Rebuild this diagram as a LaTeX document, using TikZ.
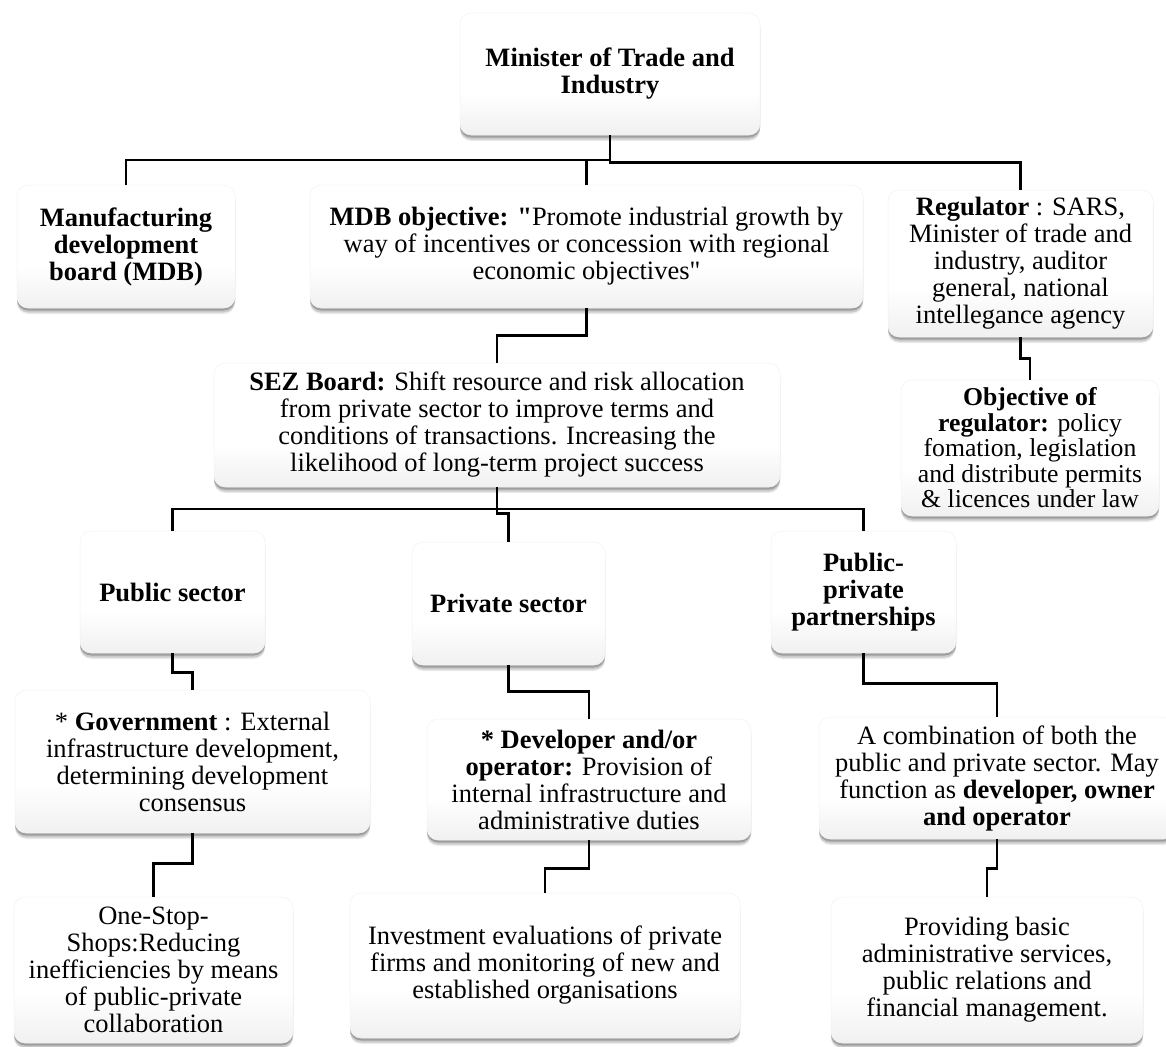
\documentclass[tikz,border=0pt]{standalone}
\usepackage{fontspec}
\setmainfont{Liberation Serif}[Ligatures=TeXOff]
\usetikzlibrary{shadows}

% soft white-to-grey fill of the boxes (bottom -> top)
\pgfdeclareverticalshading{boxfill}{100bp}{color(0bp)=(black!14); color(42bp)=(white); color(100bp)=(white)}

\tikzset{
  box/.style={rectangle, rounded corners=11pt, shading=boxfill, draw=black!5, line width=0.5pt,
    align=center, inner sep=0pt, font=\fontsize{26.5}{27}\selectfont,
    drop shadow={shadow xshift=0pt, shadow yshift=-6pt, opacity=0.08, fill=black},
    drop shadow={shadow xshift=0pt, shadow yshift=-4.5pt, opacity=0.14, fill=black},
    drop shadow={shadow xshift=0pt, shadow yshift=-2.5pt, opacity=0.22, fill=black}},
  link/.style={line width=2.5pt, draw=black}
}

\begin{document}
\begin{tikzpicture}[x=1pt, y=-1pt]
\useasboundingbox (0,0) rectangle (1166,1046);

% ---------- boxes ----------
\node[box, minimum width=300pt, minimum height=122pt] (minister) at (610,74)
  {\textbf{Minister of Trade and}\\\textbf{Industry}};

\node[box, minimum width=218pt, minimum height=123pt] (mdb) at (126,246.5)
  {\textbf{Manufacturing}\\\textbf{development}\\\textbf{board (MDB)}};

\node[box, minimum width=553pt, minimum height=123pt] (mdbobj) at (586.5,246.5)
  {\textbf{MDB objective: "}Promote industrial growth by\\way of incentives or concession with regional\\economic objectives"};

\node[box, minimum width=265pt, minimum height=147pt] (regulator) at (1020.5,263.5)
  {\textbf{Regulator} : SARS,\\Minister of trade and\\industry, auditor\\general, national\\intellegance agency};

\node[box, minimum width=258pt, minimum height=136pt, font=\fontsize{25.7}{25.5}\selectfont] (regobj) at (1030,448)
  {\textbf{Objective of}\\\textbf{regulator:} policy\\fomation, legislation\\and distribute permits\\\& licences under law};

\node[box, minimum width=566pt, minimum height=124pt] (sez) at (497,425)
  {\textbf{SEZ Board:} Shift resource and risk allocation\\from private sector to improve terms and\\conditions of transactions. Increasing the\\likelihood of long-term project success};

\node[box, minimum width=185pt, minimum height=122pt] (public) at (172.5,592)
  {\textbf{Public sector}};

\node[box, minimum width=193pt, minimum height=123pt] (private) at (508.5,603.5)
  {\textbf{Private sector}};

\node[box, minimum width=185pt, minimum height=122pt] (ppp) at (863.5,592)
  {\textbf{Public-}\\\textbf{private}\\\textbf{partnerships}};

\node[box, minimum width=355pt, minimum height=143pt] (gov) at (192.5,761.5)
  {* \textbf{Government} : External\\infrastructure development,\\determining development\\consensus};

\node[box, minimum width=324pt, minimum height=121pt] (dev) at (589,779.5)
  {\textbf{* Developer and/or}\\\textbf{operator:} Provision of\\internal infrastructure and\\administrative duties};

\node[box, minimum width=356pt, minimum height=122pt] (combo) at (997,778)
  {A combination of both the\\public and private sector. May\\function as \textbf{developer, owner}\\\textbf{and operator}};

\node[box, minimum width=279pt, minimum height=146pt] (onestop) at (153.5,970)
  {One-Stop-\\Shops:Reducing\\inefficiencies by means\\of public-private\\collaboration};

\node[box, minimum width=390pt, minimum height=145pt] (invest) at (545,965.5)
  {Investment evaluations of private\\firms and monitoring of new and\\established organisations};

\node[box, minimum width=312pt, minimum height=146pt] (prov) at (987,970)
  {Providing basic\\administrative services,\\public relations and\\financial management.};

% ---------- connectors ----------
\coordinate (busA) at (610,160);
\coordinate (busB) at (497,509);

\draw[link] (minister.south) -- ++(0,27) -| (regulator.north);
\draw[link] (mdb.north) |- (busA);
\draw[link] (mdbobj.north) -- (mdbobj.north |- busA);
\draw[link] (mdbobj.south) -- ++(0,27) -| (sez.north);
\draw[link] (regulator.south) -- ++(0,21) -| (regobj.north);

\draw[link] (sez.south) -- ++(0,26) -| (private.north);
\draw[link] (public.north) |- (busB) -| (ppp.north);

\draw[link] (public.south) -- ++(0,19) -| (gov.north);
\draw[link] (gov.south) -- ++(0,30) -| (onestop.north);
\draw[link] (private.south) -- ++(0,26) -| (dev.north);
\draw[link] (dev.south) -- ++(0,28) -| (invest.north);
\draw[link] (ppp.south) -- ++(0,30) -| (combo.north);
\draw[link] (combo.south) -- ++(0,29) -| (prov.north);
\end{tikzpicture}
\end{document}
